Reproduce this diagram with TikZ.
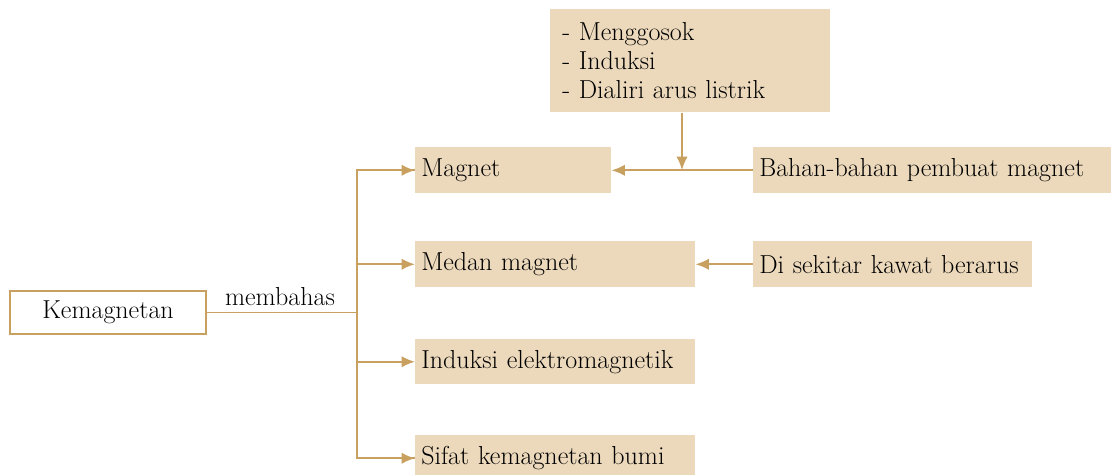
\documentclass[tikz,border=0pt]{standalone}
\usetikzlibrary{arrows.meta}
\definecolor{boxfill}{RGB}{236,217,188}
\definecolor{tan}{RGB}{200,160,96}
\begin{document}
\begin{tikzpicture}[x=0.75pt,y=-0.75pt,
  every node/.style={font=\fontsize{19.5}{21.75}\selectfont},
  cbox/.style={rectangle,fill=boxfill,anchor=north west,inner xsep=4.5pt,inner ysep=0pt,align=left},
  conn/.style={draw=tan,line width=1.4pt},
  arr/.style={conn,-{Latex[length=10pt,width=8.5pt]}}]
\useasboundingbox (0,0) rectangle (1111,475);
\node[draw=tan,line width=1.3pt,fill=white,minimum width=147pt,minimum height=32.25pt,inner sep=0pt] (kem) at (108,312.5) {Kemagnetan};
\node[cbox,text width=138pt,minimum height=34.5pt] (magnet) at (415,147) {Magnet};
\node[cbox,text width=201pt,minimum height=34.5pt] (medan) at (415,241) {Medan magnet};
\node[cbox,text width=201pt,minimum height=33.75pt] (induksi) at (415,339) {Induksi elektromagnetik};
\node[cbox,text width=201pt,minimum height=34.5pt] (sifat) at (415,435) {Sifat kemagnetan bumi};
\node[cbox,minimum height=77.25pt,inner xsep=9pt,text width=192pt] (top) at (550,9) {- Menggosok\\- Induksi\\- Dialiri arus listrik};
\node[cbox,text width=259.5pt,minimum height=34.5pt] (bahan) at (753,147) {Bahan-bahan pembuat magnet};
\node[cbox,text width=200.25pt,minimum height=34.5pt] (disek) at (753,241) {Di sekitar kawat berarus};
\node (membahas) at (280,297) {membahas};
\coordinate (j) at (357,312.5);
\coordinate (m) at (682,170);
\draw[conn] (kem.east) -- (j);
\draw[conn] (j) |- (magnet.west);
\draw[conn] (j) |- (sifat.west);
\draw[arr] (j |- magnet.west) -- (magnet.west);
\draw[arr] (j |- medan.west) -- (medan.west);
\draw[arr] (j |- induksi.west) -- (induksi.west);
\draw[arr] (j |- sifat.west) -- (sifat.west);
\draw[arr] (bahan.west) -- (magnet.east);
\draw[arr] (m |- top.south) -- (m);
\draw[arr] (disek.west) -- (medan.east);
\end{tikzpicture}
\end{document}
